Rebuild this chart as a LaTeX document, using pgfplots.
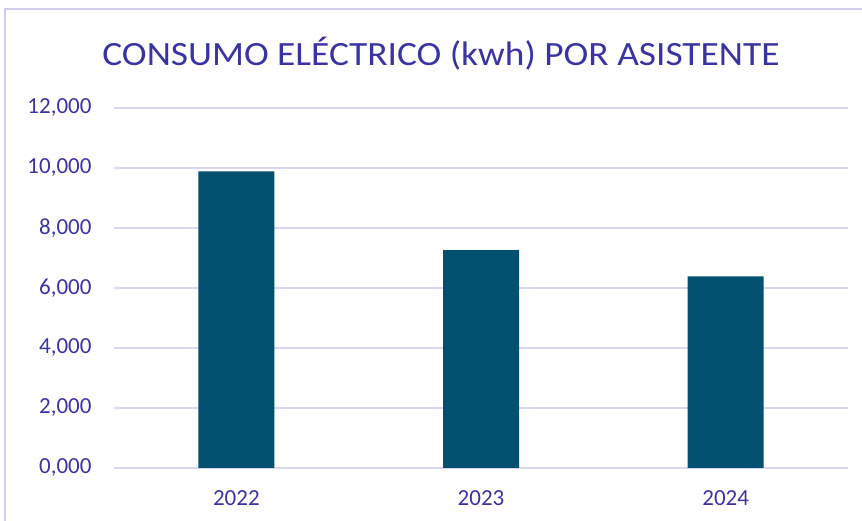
\documentclass[border=0pt]{standalone}
\usepackage{fontspec}
\setmainfont{Carlito}
\newfontfamily\titlefont{Carlito}[FakeStretch=1.1]
\usepackage{pgfplots}
\pgfplotsset{compat=1.18}
\definecolor{barblue}{HTML}{02506F}
\definecolor{txtblue}{HTML}{3A34A3}
\definecolor{gridc}{HTML}{D9D6F0}
\definecolor{framec}{HTML}{D2CEEE}
\begin{document}
\begin{tikzpicture}
\begin{axis}[
  name=ax, at={(0pt,0pt)}, anchor=south west,
  scale only axis, width=734pt, height=360pt,
  ybar, bar width=76pt,
  xmin=-0.5, xmax=2.5, ymin=0, ymax=12,
  xtick=data, xticklabels={2022,2023,2024},
  ytick={0,2,4,6,8,10,12},
  ymajorgrids, grid style={gridc, line width=1.3pt},
  axis line style={draw=none},
  major tick length=0pt,
  tick label style={font=\fontsize{23}{27}\selectfont, text=txtblue},
  yticklabel style={xshift=-19pt,
    /pgf/number format/fixed, /pgf/number format/fixed zerofill,
    /pgf/number format/precision=3, /pgf/number format/use comma,
    /pgf/number format/assume math mode=true},
  xticklabel style={yshift=-19pt},
]
\addplot[fill=barblue, draw=none] coordinates {(0,9.89) (1,7.26) (2,6.39)};
\end{axis}
\begin{scope}[x=1pt,y=1pt]
\path[use as bounding box] (-114,-53) rectangle (748,468);
\draw[framec, line width=1.3pt] (-109,-80) rectangle (780,459);
\node[text=txtblue, font=\titlefont\fontsize{34}{40}\selectfont] at (327,414) {CONSUMO ELÉCTRICO (kwh) POR ASISTENTE};
\end{scope}
\end{tikzpicture}
\end{document}
